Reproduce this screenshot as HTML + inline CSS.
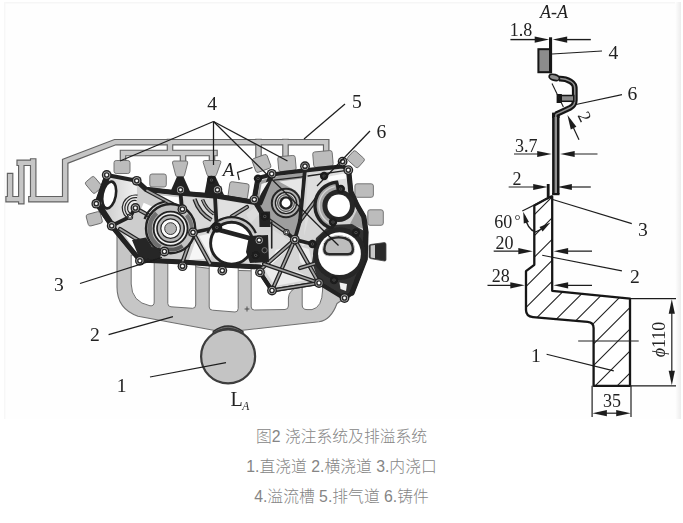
<!DOCTYPE html>
<html lang="zh"><head><meta charset="utf-8"><title>图2 浇注系统及排溢系统</title>
<style>
html,body{margin:0;padding:0;background:#fff}
#wrap{position:relative;width:683px;height:523px;overflow:hidden;background:#fff}
#fig{position:absolute;left:0;top:0}
.cap{position:absolute;left:0;width:683px;text-align:center;font-size:15.8px;line-height:20px;font-family:"Liberation Sans","Noto Sans CJK SC",sans-serif;color:#858585;font-weight:300;white-space:pre}
</style></head><body>
<div id="wrap">
<svg id="fig" width="683" height="523" viewBox="0 0 683 523" font-family="'Liberation Serif','Noto Serif CJK SC',serif">
<defs>
<linearGradient id="edgeR" x1="0" x2="1" y1="0" y2="0"><stop offset="0" stop-color="#ffffff"/><stop offset="1" stop-color="#ececec"/></linearGradient>
<linearGradient id="cav" x1="0" x2="1" y1="0" y2="0"><stop offset="0" stop-color="#c4c4c4"/><stop offset="1" stop-color="#f2f2f2"/></linearGradient>
<filter id="soft" x="-2%" y="-2%" width="104%" height="104%"><feGaussianBlur stdDeviation="0.55"/></filter>
</defs>
<rect x="4" y="2" width="677" height="417" fill="#fefefe"/>
<rect x="4" y="2" width="677" height="1.5" fill="#f6f6f6"/>
<rect x="4" y="2" width="1.5" height="417" fill="#f7f7f7"/>
<rect x="675" y="2" width="6" height="417" fill="url(#edgeR)"/>
<g filter="url(#soft)">
<g id="main">
<path d="M10.1,176.1 L10.1,199.2 M8.6,199.2 L21.3,199.2 M21.3,201.2 L21.3,162.8 M19.7,162.8 L33.2,162.8 M33.2,161.5 L33.2,199.2 M31.4,199.2 L65.2,199.2 L65.2,161.3 L115,142.2 L326.2,142.2 L326.2,149.4 M170,142 L170,153 M123,153 L214.5,153 M123,153 L123,161 M183,153 L183,161 M212,153 L212,161 M258.5,142 L258.5,157 M285.5,142 L285.5,157" fill="none" stroke="#626262" stroke-width="6.6" stroke-linejoin="miter" stroke-linecap="square"/>
<path d="M10.1,176.1 L10.1,199.2 M8.6,199.2 L21.3,199.2 M21.3,201.2 L21.3,162.8 M19.7,162.8 L33.2,162.8 M33.2,161.5 L33.2,199.2 M31.4,199.2 L65.2,199.2 L65.2,161.3 L115,142.2 L326.2,142.2 L326.2,149.4 M170,142 L170,153 M123,153 L214.5,153 M123,153 L123,161 M183,153 L183,161 M212,153 L212,161 M258.5,142 L258.5,157 M285.5,142 L285.5,157" fill="none" stroke="#c6c6c6" stroke-width="4.3" stroke-linejoin="miter" stroke-linecap="square"/>
<path d="M117,232 L117,287 Q117,309 138,316.2 L213.5,330.2 L242.8,330.2 L319,321.8 Q331,320 337,303.5 L345,298 L319,282 L272,290 L260,271 L222,270 L182,265 L140,259 Z" fill="#c6c6c6" stroke="#707070" stroke-width="1.1" stroke-linejoin="round"/>
<path d="M131.2,255 L131.2,284 Q131.5,302 150,305.8 Q154.2,306.3 154.2,302 L154.2,255 Z" fill="#fff" stroke="#707070" stroke-width="1"/>
<path d="M167.8,258 L167.8,303.5 Q167.8,306.6 171,306.8 L192.5,308.3 Q195.7,308.4 195.7,305 L195.7,258 Z" fill="#fff" stroke="#707070" stroke-width="1"/>
<path d="M209.2,262 L209.2,307 Q209.2,310 212.5,310.2 L235,312 Q238.2,312 238.2,308.5 L238.2,262 Z" fill="#fff" stroke="#707070" stroke-width="1"/>
<path d="M251.2,265 L251.2,307 Q251.2,310 254.5,310 L285,309.5 Q288.4,309.4 288.4,306 L288.4,298 Q289,290 297.5,287.5 L297.5,265 Z" fill="#fff" stroke="#707070" stroke-width="1"/>
<path d="M302.2,280 L302.2,305 Q302.2,309.6 307,309.6 L312,309.6 Q322.2,307.5 322.6,290 L322.6,278 Z" fill="#fff" stroke="#707070" stroke-width="1"/>
<line x1="244.6" y1="309" x2="249.4" y2="309" stroke="#444" stroke-width="0.9" />
<line x1="247" y1="306.5" x2="247" y2="311.5" stroke="#444" stroke-width="0.9" />
<path d="M213.2,331.5 Q228,320.5 243,331.5 L243,336 L213.2,336 Z" fill="#6a6a6a" stroke="#2e2e2e" stroke-width="1.3"/>
<path d="M213.6,333.6 Q228,323 242.6,333.6" fill="none" stroke="#2e2e2e" stroke-width="1"/>
<path d="M214.2,335.6 Q228,325.5 242,335.6" fill="none" stroke="#2e2e2e" stroke-width="1"/>
<circle cx="228.1" cy="356.4" r="27" fill="#c4c4c4" stroke="#3c3c3c" stroke-width="2.2"/>
<rect x="114.0" y="160.5" width="16" height="13" rx="2.2" fill="#bcbcbc" stroke="#6a6a6a" stroke-width="0.9" transform="rotate(0 122 167)"/>
<rect x="149.8" y="174.0" width="16.5" height="13" rx="2.2" fill="#bcbcbc" stroke="#6a6a6a" stroke-width="0.9" transform="rotate(0 158 180.5)"/>
<rect x="228.9" y="182.7" width="19.5" height="15.5" rx="2.2" fill="#bcbcbc" stroke="#6a6a6a" stroke-width="0.9" transform="rotate(8 238.7 190.4)"/>
<rect x="253.5" y="156.2" width="16" height="14.5" rx="2.2" fill="#bcbcbc" stroke="#6a6a6a" stroke-width="0.9" transform="rotate(-20 261.5 163.5)"/>
<rect x="278.2" y="156.0" width="17.5" height="15" rx="2.2" fill="#bcbcbc" stroke="#6a6a6a" stroke-width="0.9" transform="rotate(-5 287 163.5)"/>
<rect x="313.2" y="151.2" width="19.5" height="15.5" rx="2.2" fill="#bcbcbc" stroke="#6a6a6a" stroke-width="0.9" transform="rotate(-5 323 159)"/>
<rect x="348.6" y="153.2" width="14.5" height="12" rx="2.2" fill="#bcbcbc" stroke="#6a6a6a" stroke-width="0.9" transform="rotate(42 355.8 159.2)"/>
<rect x="354.9" y="183.8" width="18.5" height="13.5" rx="2.2" fill="#bcbcbc" stroke="#6a6a6a" stroke-width="0.9" transform="rotate(0 364.2 190.5)"/>
<rect x="367.8" y="209.8" width="15.5" height="15.5" rx="2.2" fill="#bcbcbc" stroke="#6a6a6a" stroke-width="0.9" transform="rotate(0 375.5 217.5)"/>
<rect x="86.3" y="179.2" width="14.5" height="11.5" rx="2.2" fill="#bcbcbc" stroke="#6a6a6a" stroke-width="0.9" transform="rotate(50 93.6 185)"/>
<rect x="87.0" y="212.8" width="14.5" height="12" rx="2.2" fill="#bcbcbc" stroke="#6a6a6a" stroke-width="0.9" transform="rotate(-15 94.3 218.8)"/>
<path d="M174,161 Q172.2,161 172.5,163 L175.6,175 Q176,176.8 177.5,176.8 L182.7,176.8 Q184.2,176.8 184.6,175 L187.7,163 Q188,161 186.2,161 Z" fill="#bcbcbc" stroke="#6a6a6a" stroke-width="0.9"/>
<path d="M204.6,160.5 Q202.8,160.5 203.2,162.5 L207,174.5 Q207.5,176.3 209,176.3 L214.4,176.3 Q216,176.3 216.5,174.5 L220.8,162.5 Q221.2,160.5 219.4,160.5 Z" fill="#bcbcbc" stroke="#6a6a6a" stroke-width="0.9"/>
<path d="M370.5,244.5 L384.5,242.6 Q386,242.6 386,244.5 L386,259.5 Q386,261.2 384.5,261 L370.5,258.6 Q369,258.3 369,256.8 L369,246.2 Q369,244.8 370.5,244.5 Z" fill="#2a2a2a" stroke="#444" stroke-width="0.8"/>
<path d="M370.6,245.6 L375,245 L375,258.2 L370.6,257.5 Z" fill="#c8c8c8"/>
<path d="M106.7,175 L136.7,180.8 L146,189.3 L180.5,193 L217.5,196 L254,202 L258,178 L271.7,174.5 L305,170.3 L342.6,166.3 L348.6,170 L350.8,191.7 L357,205 L363.8,216.7 L366,232 L365.2,259 L352,293 L344.5,298.5 L319,283 L272,290.5 L260,272.4 L260,267 L222.5,265 L182.5,262 L139.7,260 L111.7,225.8 L96.3,203.7 Z" fill="#d4d4d4" stroke="#222222" stroke-width="1" stroke-linejoin="round" stroke-linecap="round" />
<path d="M106.7,175 L136.7,180.8 L137,200 L133,213 L111.7,225.8 L96.3,203.7 Z" fill="url(#cav)"/>
<path d="M137,183 L146,189.3 L182,209 L193,232.5 L182.5,262 L139.7,260 L118,230 L131,218 L137,205 Z" fill="#cdcdcd"/>
<path d="M143.7,202.8 L154.3,207.5 L148.4,213.3 L141.4,208.6 Z" fill="#fff"/>
<path d="M150,194.2 L178.5,197.2 L179,205.5 L158,198.2 Z" fill="#fff"/>
<path d="M184,197 L214,199.5 L213.5,224 L196,229.5 L185,210 Z" fill="#d9d9d9"/>
<path d="M196.5,238 L206.5,258.5 L189,260 Z" fill="#f6f6f6"/>
<path d="M199,236 L212.5,233 L211,258 Z" fill="#f3f3f3"/>
<path d="M123.5,232 L138.5,242 L136.5,254 Z" fill="#fafafa"/>
<path d="M219,199.5 L250,205 L243,211 L228,216 L218,219 Z" fill="#e0e0e0"/>
<path d="M258,205 L262,211 L251,223 L246,214 Z" fill="#dcdcdc"/>
<path d="M260,181 L272,177 L303,172.5 L299,222 L294,238 L284,231 L266,217 L257,201 Z" fill="#9e9e9e"/>
<path d="M308.5,174 L340.5,169.5 L346.5,173 L348.5,188 L331,185 L318,196 L309,216 L304,236 L307.5,182 Z" fill="#dedede"/>
<path d="M326,177 L345.5,173.2 L346.5,178.5 L329,181 Z" fill="#fbfbfb"/>
<path d="M352,192 L362.5,216 L364,229 L350,224 L357,210 Z" fill="#9c9c9c"/>
<path d="M298,246 L309,249 L314,274 L300,262 Z" fill="#ececec"/>
<path d="M264,265 L300,272.5 L312,279 L275,286 L266,272 Z" fill="#ebebeb"/>
<path d="M298,241 L308,240.5 L303,246 Z" fill="#eee"/>
<path d="M270,228 L283,236 L292,243 L268,262 Z" fill="#dcdcdc"/>
<path d="M276,250 L291,246 L270,266 Z" fill="#f6f6f6"/>
<path d="M316,238 L330,225 L352,224 L366,232 L365.2,259 L352,293 L344.5,298.5 L319,283 L312,262 Z" fill="#333"/>
<path d="M339.5,282.5 L347,284 L346,291 L340.5,289 Z" fill="#f2f2f2"/>
<path d="M177,176.5 L183.4,176.5 L190.5,192.5 L170.5,191.5 Z" fill="#222222"/>
<path d="M207.8,176 L215.2,176 L224,195 L204.5,193.5 Z" fill="#222222"/>
<path d="M106.7,175 L136.7,180.8 L146,189.3 L180.5,193 L217.5,196 L254,202 L258,178 L271.7,174.5 L305,170.3 L342.6,166.3 L348.6,170 L350.8,191.7 L357,205 L363.8,216.7 L366,232 L365.2,259 L352,293 L344.5,298.5 L319,283 L272,290.5 L260,272.4 L260,267 L222.5,265 L182.5,262 L139.7,260 L111.7,225.8 L96.3,203.7 Z" fill="none" stroke="#222222" stroke-width="4.2" stroke-linejoin="round" stroke-linecap="round" />
<path d="M107.5,175.5 L97.8,203.7 L112.5,225.8" fill="none" stroke="#222222" stroke-width="6" stroke-linejoin="round" stroke-linecap="round" />
<path d="M111.7,225.8 L139.7,260" fill="none" stroke="#222222" stroke-width="5" stroke-linejoin="round" stroke-linecap="round" />
<path d="M136.7,180.8 L146,189.3 L180.5,193.3 L217.5,196.3 L254,202.3" fill="none" stroke="#222222" stroke-width="5" stroke-linejoin="round" stroke-linecap="round" />
<path d="M348.6,170 L350.8,191.7 L357,205 L363.8,216.7 L366,232 L365.2,259 L352,293" fill="none" stroke="#222222" stroke-width="5.2" stroke-linejoin="round" stroke-linecap="round" />
<path d="M258,178 L254,200 L264,216.7" fill="none" stroke="#222222" stroke-width="5" stroke-linejoin="round" stroke-linecap="round" />
<path d="M139.7,260 L182.5,262 L222.5,265 L260,267" fill="none" stroke="#222222" stroke-width="5" stroke-linejoin="round" stroke-linecap="round" />
<path d="M271.7,174.5 L260,203" fill="none" stroke="#222222" stroke-width="5" stroke-linejoin="round" stroke-linecap="round" />
<path d="M150,193.6 L179,196.4" fill="none" stroke="#bdbdbd" stroke-width="0.9" stroke-linejoin="round" stroke-linecap="round" />
<path d="M274,180.2 L304.5,176.6" fill="none" stroke="#222222" stroke-width="1.3" stroke-linejoin="round" stroke-linecap="round" />
<path d="M308,176 L345,170.6" fill="none" stroke="#222222" stroke-width="1.3" stroke-linejoin="round" stroke-linecap="round" />
<path d="M147,190.5 L182,209.2" fill="none" stroke="#222222" stroke-width="4.2" stroke-linejoin="round" stroke-linecap="round" /><path d="M147,190.5 L182,209.2" fill="none" stroke="#a2a2a2" stroke-width="1.7000000000000002" stroke-linejoin="round" stroke-linecap="round" />
<path d="M182,209.2 L193,232.5" fill="none" stroke="#222222" stroke-width="4.2" stroke-linejoin="round" stroke-linecap="round" /><path d="M182,209.2 L193,232.5" fill="none" stroke="#a2a2a2" stroke-width="1.7000000000000002" stroke-linejoin="round" stroke-linecap="round" />
<path d="M193,232.5 L182.5,262" fill="none" stroke="#222222" stroke-width="4.2" stroke-linejoin="round" stroke-linecap="round" /><path d="M193,232.5 L182.5,262" fill="none" stroke="#a2a2a2" stroke-width="1.7000000000000002" stroke-linejoin="round" stroke-linecap="round" />
<path d="M193,232.5 L210,263.5" fill="none" stroke="#222222" stroke-width="4.2" stroke-linejoin="round" stroke-linecap="round" /><path d="M193,232.5 L210,263.5" fill="none" stroke="#a2a2a2" stroke-width="1.7000000000000002" stroke-linejoin="round" stroke-linecap="round" />
<path d="M294.7,239.7 L260,270" fill="none" stroke="#222222" stroke-width="4.2" stroke-linejoin="round" stroke-linecap="round" /><path d="M294.7,239.7 L260,270" fill="none" stroke="#a2a2a2" stroke-width="1.7000000000000002" stroke-linejoin="round" stroke-linecap="round" />
<path d="M294.7,239.7 L272,290.5" fill="none" stroke="#222222" stroke-width="4.2" stroke-linejoin="round" stroke-linecap="round" /><path d="M294.7,239.7 L272,290.5" fill="none" stroke="#a2a2a2" stroke-width="1.7000000000000002" stroke-linejoin="round" stroke-linecap="round" />
<path d="M294.7,239.7 L319,283" fill="none" stroke="#222222" stroke-width="4.2" stroke-linejoin="round" stroke-linecap="round" /><path d="M294.7,239.7 L319,283" fill="none" stroke="#a2a2a2" stroke-width="1.7000000000000002" stroke-linejoin="round" stroke-linecap="round" />
<path d="M264,264 L319,283" fill="none" stroke="#222222" stroke-width="4.2" stroke-linejoin="round" stroke-linecap="round" /><path d="M264,264 L319,283" fill="none" stroke="#a2a2a2" stroke-width="1.7000000000000002" stroke-linejoin="round" stroke-linecap="round" />
<path d="M272,290.5 L319,283" fill="none" stroke="#222222" stroke-width="4.2" stroke-linejoin="round" stroke-linecap="round" /><path d="M272,290.5 L319,283" fill="none" stroke="#a2a2a2" stroke-width="1.7000000000000002" stroke-linejoin="round" stroke-linecap="round" />
<path d="M231.7,216.5 L247,207" fill="none" stroke="#222222" stroke-width="4.2" stroke-linejoin="round" stroke-linecap="round" /><path d="M231.7,216.5 L247,207" fill="none" stroke="#a2a2a2" stroke-width="1.7000000000000002" stroke-linejoin="round" stroke-linecap="round" />
<path d="M120,229 L146,245" fill="none" stroke="#222222" stroke-width="4.2" stroke-linejoin="round" stroke-linecap="round" /><path d="M120,229 L146,245" fill="none" stroke="#a2a2a2" stroke-width="1.7000000000000002" stroke-linejoin="round" stroke-linecap="round" />
<path d="M135.3,208 L150,216" fill="none" stroke="#222222" stroke-width="4.2" stroke-linejoin="round" stroke-linecap="round" /><path d="M135.3,208 L150,216" fill="none" stroke="#a2a2a2" stroke-width="1.7000000000000002" stroke-linejoin="round" stroke-linecap="round" />
<path d="M300,221 L318,197" fill="none" stroke="#222222" stroke-width="4.2" stroke-linejoin="round" stroke-linecap="round" /><path d="M300,221 L318,197" fill="none" stroke="#a2a2a2" stroke-width="1.7000000000000002" stroke-linejoin="round" stroke-linecap="round" />
<path d="M320,262 L300,268" fill="none" stroke="#222222" stroke-width="4.2" stroke-linejoin="round" stroke-linecap="round" /><path d="M320,262 L300,268" fill="none" stroke="#a2a2a2" stroke-width="1.7000000000000002" stroke-linejoin="round" stroke-linecap="round" />
<path d="M264,216.7 L286,232" fill="none" stroke="#222222" stroke-width="4.2" stroke-linejoin="round" stroke-linecap="round" /><path d="M264,216.7 L286,232" fill="none" stroke="#a2a2a2" stroke-width="1.7000000000000002" stroke-linejoin="round" stroke-linecap="round" />
<path d="M180.5,193 L182,209.2" fill="none" stroke="#222222" stroke-width="3.8" stroke-linejoin="round" stroke-linecap="round" />
<path d="M193,232.5 L216.7,227.5" fill="none" stroke="#222222" stroke-width="3.8" stroke-linejoin="round" stroke-linecap="round" />
<path d="M216.7,227.5 L215,197" fill="none" stroke="#222222" stroke-width="3.8" stroke-linejoin="round" stroke-linecap="round" />
<path d="M305,169 L300,221" fill="none" stroke="#222222" stroke-width="3.8" stroke-linejoin="round" stroke-linecap="round" />
<path d="M300,221 L294.7,239.7" fill="none" stroke="#222222" stroke-width="3.8" stroke-linejoin="round" stroke-linecap="round" />
<path d="M294.7,239.7 L312.5,244" fill="none" stroke="#222222" stroke-width="3.8" stroke-linejoin="round" stroke-linecap="round" />
<path d="M286,232 L294.7,239.7" fill="none" stroke="#222222" stroke-width="3.8" stroke-linejoin="round" stroke-linecap="round" />
<path d="M111.7,225.8 L130,216.7" fill="none" stroke="#222222" stroke-width="3.8" stroke-linejoin="round" stroke-linecap="round" />
<path d="M130,216.7 L135.3,208" fill="none" stroke="#222222" stroke-width="3.8" stroke-linejoin="round" stroke-linecap="round" />
<path d="M260,272.4 L272,290.5" fill="none" stroke="#222222" stroke-width="3.8" stroke-linejoin="round" stroke-linecap="round" />
<path d="M271.7,222 L271.7,248" fill="none" stroke="#222222" stroke-width="1.6" stroke-linejoin="round" stroke-linecap="round" />
<path d="M194.5,199 Q199,213 211.5,220" fill="none" stroke="#222" stroke-width="4.2"/><path d="M194.5,199 Q199,213 211.5,220" fill="none" stroke="#a2a2a2" stroke-width="1.8"/>
<path d="M202.5,199.5 Q206,209 214,214" fill="none" stroke="#222" stroke-width="3.6"/><path d="M202.5,199.5 Q206,209 214,214" fill="none" stroke="#a2a2a2" stroke-width="1.4"/>
<ellipse cx="109.2" cy="195" rx="6.6" ry="13.6" transform="rotate(11 109.2 195)" fill="#fff" stroke="#222" stroke-width="2.6"/>
<path d="M136.6,200.6 A7.5,7.5 0 0 0 130.5,213.8" fill="none" stroke="#2a2a2a" stroke-width="1.2"/>
<path d="M137.1,197.7 A10.5,10.5 0 0 0 128.6,216.1" fill="none" stroke="#2a2a2a" stroke-width="1.2"/>
<path d="M137.5,195.2 A13,13 0 0 0 127.0,218.0" fill="none" stroke="#2a2a2a" stroke-width="1.2"/>
<path d="M144.5,219 A27.6,27.6 0 0 1 165,201.5" fill="none" stroke="#222" stroke-width="2.2"/>
<circle cx="170.6" cy="228.6" r="24.6" fill="#c2c2c2" stroke="#222" stroke-width="2.4"/>
<path d="M156.6,213.1 A21,21 0 0 0 160.6,247.1" fill="none" stroke="#6e6e6e" stroke-width="4.4"/>
<path d="M186.6,215.1 A21,21 0 0 1 190.1,236.6" fill="none" stroke="#787878" stroke-width="4"/>
<path d="M166.6,249.2 A21,21 0 0 0 182.6,245.8" fill="none" stroke="#5a5a5a" stroke-width="4"/>
<path d="M132,240 L146,237.5 L152,247 L162,248.5 L160,259.5 L139.5,258.5 Z" fill="#262626"/>
<circle cx="170.6" cy="228.6" r="17" fill="#f1f1f1" stroke="#222" stroke-width="1.9"/>
<circle cx="170.6" cy="228.6" r="13.6" fill="#b7b7b7" stroke="#222" stroke-width="1.6"/>
<circle cx="170.6" cy="228.6" r="9.8" fill="#fbfbfb" stroke="#222" stroke-width="1.2"/>
<circle cx="170.6" cy="228.6" r="5.9" fill="#b6b6b6" stroke="#3a3a3a" stroke-width="1"/>
<path d="M207.4,233.2 A26.2,26.2 0 0 1 255.8,233.2" fill="#c4c4c4" stroke="#222" stroke-width="2.2"/>
<circle cx="231.6" cy="243.2" r="21" fill="#fff" stroke="#222" stroke-width="2.9"/>
<path d="M217.5,229.5 L258.3,240.5" fill="none" stroke="#222222" stroke-width="4.8" stroke-linejoin="round" stroke-linecap="round" />
<path d="M259,211.5 L270,211.5 L270.5,227 L259.5,227 Z" fill="#222"/>
<path d="M249,236 L268,235 L269,262 L250,263 L246,252 Z" fill="#242424"/>
<circle cx="264.6" cy="250.2" r="2.6" fill="none" stroke="#777" stroke-width="0.9"/>
<path d="M261.5,184 L268.5,181.5 L259.5,196 Z" fill="#f4f4f4"/>
<path d="M279,181.5 L302,178.5 L300.5,199 L296,191 L288,186.5 Z" fill="#e6e6e6"/>
<circle cx="286" cy="203" r="15.2" fill="#262626"/>
<circle cx="286" cy="203" r="13.2" fill="#b4b4b4"/>
<circle cx="286" cy="203" r="10.6" fill="#d9d9d9" stroke="#222" stroke-width="1.3"/>
<circle cx="286" cy="203" r="8.4" fill="#c4c4c4" stroke="#333" stroke-width="0.9"/>
<circle cx="286" cy="203" r="6.8" fill="#222"/>
<circle cx="286" cy="203" r="4.4" fill="#fff"/>
<path d="M336.7,182.2 A23.6,23.6 0 0 0 331.7,228.3 L335.7,220.8 L338.7,190.8 Z" fill="#a8a8a8" stroke="#222" stroke-width="3.4"/>
<path d="M334.7,186.6 A19.6,19.6 0 0 0 330.7,223.7" fill="none" stroke="#d5d5d5" stroke-width="1.4"/>
<circle cx="338.7" cy="205.8" r="16.3" fill="#252525"/>
<circle cx="338.7" cy="205.8" r="11.3" fill="#fff"/>
<circle cx="339.5" cy="253.7" r="26.4" fill="#262626"/>
<circle cx="339.5" cy="253.7" r="21.4" fill="#fff"/>
<path d="M322.6,249.3 Q322.8,236 338.6,235.6 Q354.4,236 354.6,249.3 Q354.6,256 348,256 L329.2,256 Q322.6,256 322.6,249.3 Z" fill="#2a2a2a" stroke="#dcdcdc" stroke-width="0.9"/>
<path d="M325.6,249.2 Q325.8,238.9 338.6,238.5 Q351.4,238.9 351.6,249.2 Q351.6,252.9 347.6,252.9 L329.6,252.9 Q325.6,252.9 325.6,249.2 Z" fill="#bdbdbd"/>
<circle cx="106.7" cy="175" r="4.9" fill="#242424"/><circle cx="106.7" cy="175" r="3.53" fill="#bdbdbd"/><circle cx="106.7" cy="175" r="2.84" fill="#2a2a2a"/><circle cx="106.7" cy="175" r="1.4" fill="#fff"/>
<circle cx="136.7" cy="180.8" r="4.9" fill="#242424"/><circle cx="136.7" cy="180.8" r="3.53" fill="#bdbdbd"/><circle cx="136.7" cy="180.8" r="2.84" fill="#2a2a2a"/><circle cx="136.7" cy="180.8" r="1.4" fill="#fff"/>
<circle cx="96.3" cy="203.7" r="4.9" fill="#242424"/><circle cx="96.3" cy="203.7" r="3.53" fill="#bdbdbd"/><circle cx="96.3" cy="203.7" r="2.84" fill="#2a2a2a"/><circle cx="96.3" cy="203.7" r="1.4" fill="#fff"/>
<circle cx="111.7" cy="225.8" r="4.9" fill="#242424"/><circle cx="111.7" cy="225.8" r="3.53" fill="#bdbdbd"/><circle cx="111.7" cy="225.8" r="2.84" fill="#2a2a2a"/><circle cx="111.7" cy="225.8" r="1.4" fill="#fff"/>
<circle cx="139.9" cy="260.8" r="4.9" fill="#242424"/><circle cx="139.9" cy="260.8" r="3.53" fill="#bdbdbd"/><circle cx="139.9" cy="260.8" r="2.84" fill="#2a2a2a"/><circle cx="139.9" cy="260.8" r="1.4" fill="#fff"/>
<circle cx="164.4" cy="251.5" r="4.9" fill="#242424"/><circle cx="164.4" cy="251.5" r="3.53" fill="#bdbdbd"/><circle cx="164.4" cy="251.5" r="2.84" fill="#2a2a2a"/><circle cx="164.4" cy="251.5" r="1.4" fill="#fff"/>
<circle cx="182.5" cy="266.2" r="4.9" fill="#242424"/><circle cx="182.5" cy="266.2" r="3.53" fill="#bdbdbd"/><circle cx="182.5" cy="266.2" r="2.84" fill="#2a2a2a"/><circle cx="182.5" cy="266.2" r="1.4" fill="#fff"/>
<circle cx="222.3" cy="270.6" r="4.9" fill="#242424"/><circle cx="222.3" cy="270.6" r="3.53" fill="#bdbdbd"/><circle cx="222.3" cy="270.6" r="2.84" fill="#2a2a2a"/><circle cx="222.3" cy="270.6" r="1.4" fill="#fff"/>
<circle cx="260" cy="272.4" r="4.9" fill="#242424"/><circle cx="260" cy="272.4" r="3.53" fill="#bdbdbd"/><circle cx="260" cy="272.4" r="2.84" fill="#2a2a2a"/><circle cx="260" cy="272.4" r="1.4" fill="#fff"/>
<circle cx="272" cy="290.5" r="4.9" fill="#242424"/><circle cx="272" cy="290.5" r="3.53" fill="#bdbdbd"/><circle cx="272" cy="290.5" r="2.84" fill="#2a2a2a"/><circle cx="272" cy="290.5" r="1.4" fill="#fff"/>
<circle cx="319" cy="283" r="4.9" fill="#242424"/><circle cx="319" cy="283" r="3.53" fill="#bdbdbd"/><circle cx="319" cy="283" r="2.84" fill="#2a2a2a"/><circle cx="319" cy="283" r="1.4" fill="#fff"/>
<circle cx="344.5" cy="298" r="4.9" fill="#242424"/><circle cx="344.5" cy="298" r="3.53" fill="#bdbdbd"/><circle cx="344.5" cy="298" r="2.84" fill="#2a2a2a"/><circle cx="344.5" cy="298" r="1.4" fill="#fff"/>
<circle cx="180.5" cy="189.8" r="4.9" fill="#242424"/><circle cx="180.5" cy="189.8" r="3.53" fill="#bdbdbd"/><circle cx="180.5" cy="189.8" r="2.84" fill="#2a2a2a"/><circle cx="180.5" cy="189.8" r="1.4" fill="#fff"/>
<circle cx="217.4" cy="189.8" r="4.9" fill="#242424"/><circle cx="217.4" cy="189.8" r="3.53" fill="#bdbdbd"/><circle cx="217.4" cy="189.8" r="2.84" fill="#2a2a2a"/><circle cx="217.4" cy="189.8" r="1.4" fill="#fff"/>
<circle cx="254.3" cy="199.6" r="4.9" fill="#242424"/><circle cx="254.3" cy="199.6" r="3.53" fill="#bdbdbd"/><circle cx="254.3" cy="199.6" r="2.84" fill="#2a2a2a"/><circle cx="254.3" cy="199.6" r="1.4" fill="#fff"/>
<circle cx="271.7" cy="173.8" r="4.9" fill="#242424"/><circle cx="271.7" cy="173.8" r="3.53" fill="#bdbdbd"/><circle cx="271.7" cy="173.8" r="2.84" fill="#2a2a2a"/><circle cx="271.7" cy="173.8" r="1.4" fill="#fff"/>
<circle cx="305" cy="166.2" r="4.9" fill="#242424"/><circle cx="305" cy="166.2" r="3.53" fill="#bdbdbd"/><circle cx="305" cy="166.2" r="2.84" fill="#2a2a2a"/><circle cx="305" cy="166.2" r="1.4" fill="#fff"/>
<circle cx="342.6" cy="161.6" r="4.9" fill="#242424"/><circle cx="342.6" cy="161.6" r="3.53" fill="#bdbdbd"/><circle cx="342.6" cy="161.6" r="2.84" fill="#2a2a2a"/><circle cx="342.6" cy="161.6" r="1.4" fill="#fff"/>
<circle cx="348.3" cy="170.1" r="4.9" fill="#242424"/><circle cx="348.3" cy="170.1" r="3.53" fill="#bdbdbd"/><circle cx="348.3" cy="170.1" r="2.84" fill="#2a2a2a"/><circle cx="348.3" cy="170.1" r="1.4" fill="#fff"/>
<circle cx="135.4" cy="208" r="4.9" fill="#242424"/><circle cx="135.4" cy="208" r="3.53" fill="#bdbdbd"/><circle cx="135.4" cy="208" r="2.84" fill="#2a2a2a"/><circle cx="135.4" cy="208" r="1.4" fill="#fff"/>
<circle cx="182.4" cy="209.2" r="4.9" fill="#242424"/><circle cx="182.4" cy="209.2" r="3.53" fill="#bdbdbd"/><circle cx="182.4" cy="209.2" r="2.84" fill="#2a2a2a"/><circle cx="182.4" cy="209.2" r="1.4" fill="#fff"/>
<circle cx="193" cy="232.4" r="4.9" fill="#242424"/><circle cx="193" cy="232.4" r="3.53" fill="#bdbdbd"/><circle cx="193" cy="232.4" r="2.84" fill="#2a2a2a"/><circle cx="193" cy="232.4" r="1.4" fill="#fff"/>
<circle cx="259.2" cy="240.2" r="4.9" fill="#242424"/><circle cx="259.2" cy="240.2" r="3.53" fill="#bdbdbd"/><circle cx="259.2" cy="240.2" r="2.84" fill="#2a2a2a"/><circle cx="259.2" cy="240.2" r="1.4" fill="#fff"/>
<circle cx="294.8" cy="239.6" r="4.9" fill="#242424"/><circle cx="294.8" cy="239.6" r="3.53" fill="#bdbdbd"/><circle cx="294.8" cy="239.6" r="2.84" fill="#2a2a2a"/><circle cx="294.8" cy="239.6" r="1.4" fill="#fff"/>
<circle cx="130" cy="216.7" r="3.2" fill="#242424"/><circle cx="130" cy="216.7" r="2.30" fill="#bdbdbd"/><circle cx="130" cy="216.7" r="1.86" fill="#2a2a2a"/><circle cx="130" cy="216.7" r="1.0" fill="#fff"/>
<circle cx="286.4" cy="232.2" r="3.2" fill="#242424"/><circle cx="286.4" cy="232.2" r="2.30" fill="#bdbdbd"/><circle cx="286.4" cy="232.2" r="1.86" fill="#2a2a2a"/><circle cx="286.4" cy="232.2" r="1.0" fill="#fff"/>
<circle cx="216.8" cy="227.3" r="5.4" fill="#1c1c1c"/><circle cx="216.8" cy="227.3" r="1.6" fill="#555"/><circle cx="216.8" cy="227.3" r="0.8" fill="#111"/>
<circle cx="211.4" cy="180" r="4.2" fill="#1c1c1c"/><circle cx="211.4" cy="180" r="1.6" fill="#555"/><circle cx="211.4" cy="180" r="0.8" fill="#111"/>
<circle cx="258" cy="178.6" r="4.2" fill="#1c1c1c"/><circle cx="258" cy="178.6" r="1.6" fill="#555"/><circle cx="258" cy="178.6" r="0.8" fill="#111"/>
<circle cx="264.8" cy="216.4" r="4.2" fill="#1c1c1c"/><circle cx="264.8" cy="216.4" r="1.6" fill="#555"/><circle cx="264.8" cy="216.4" r="0.8" fill="#111"/>
<circle cx="255.7" cy="255.3" r="4.2" fill="#1c1c1c"/><circle cx="255.7" cy="255.3" r="1.6" fill="#555"/><circle cx="255.7" cy="255.3" r="0.8" fill="#111"/>
<circle cx="324.1" cy="176" r="4.2" fill="#1c1c1c"/><circle cx="324.1" cy="176" r="1.6" fill="#555"/><circle cx="324.1" cy="176" r="0.8" fill="#111"/>
<circle cx="340.8" cy="189" r="4.2" fill="#1c1c1c"/><circle cx="340.8" cy="189" r="1.6" fill="#555"/><circle cx="340.8" cy="189" r="0.8" fill="#111"/>
<circle cx="333" cy="222" r="4.2" fill="#1c1c1c"/><circle cx="333" cy="222" r="1.6" fill="#555"/><circle cx="333" cy="222" r="0.8" fill="#111"/>
<circle cx="312.5" cy="244" r="4.2" fill="#1c1c1c"/><circle cx="312.5" cy="244" r="1.6" fill="#555"/><circle cx="312.5" cy="244" r="0.8" fill="#111"/>
<circle cx="334" cy="280" r="4.2" fill="#1c1c1c"/><circle cx="334" cy="280" r="1.6" fill="#555"/><circle cx="334" cy="280" r="0.8" fill="#111"/>
<circle cx="356" cy="232.5" r="4.2" fill="#1c1c1c"/><circle cx="356" cy="232.5" r="1.6" fill="#555"/><circle cx="356" cy="232.5" r="0.8" fill="#111"/>
<line x1="213.5" y1="121.5" x2="120" y2="161" stroke="#1e1e1e" stroke-width="1.25" />
<line x1="213.5" y1="121.5" x2="213.5" y2="165" stroke="#1e1e1e" stroke-width="1.25" />
<line x1="213.5" y1="121.5" x2="287.5" y2="161" stroke="#1e1e1e" stroke-width="1.25" />
<line x1="213.5" y1="121.5" x2="338.5" y2="245.5" stroke="#1e1e1e" stroke-width="1.25" />
<text x="212.2" y="110.4" font-size="19.6" text-anchor="middle" fill="#222" >4</text>
<line x1="345" y1="104" x2="304" y2="139" stroke="#1e1e1e" stroke-width="1.25" />
<text x="357" y="108" font-size="19.6" text-anchor="middle" fill="#222" >5</text>
<line x1="370" y1="131" x2="317" y2="186" stroke="#1e1e1e" stroke-width="1.25" />
<text x="381.5" y="137.5" font-size="19.6" text-anchor="middle" fill="#222" >6</text>
<line x1="80" y1="283.5" x2="162" y2="257.4" stroke="#1e1e1e" stroke-width="1.25" />
<text x="59" y="291" font-size="19.6" text-anchor="middle" fill="#222" >3</text>
<line x1="108.6" y1="334.6" x2="173" y2="316.6" stroke="#1e1e1e" stroke-width="1.25" />
<text x="95" y="340.5" font-size="19.6" text-anchor="middle" fill="#222" >2</text>
<line x1="150" y1="377" x2="226" y2="362.7" stroke="#1e1e1e" stroke-width="1.25" />
<text x="121.6" y="391.8" font-size="19.6" text-anchor="middle" fill="#222" >1</text>
<text x="228.5" y="176" font-size="19" font-style="italic" text-anchor="middle" fill="#222" >A</text>
<path d="M252.5,167.5 L237.5,172.5 L239.2,180" fill="none" stroke="#1e1e1e" stroke-width="1.2"/>
<text x="230.5" y="405.7" font-size="20" text-anchor="start" fill="#222" >L</text>
<text x="242.2" y="409.6" font-size="11.5" font-style="italic" text-anchor="start" fill="#222" >A</text>
</g>
<g id="section">
<text x="554" y="17.5" font-size="18" font-style="italic" text-anchor="middle" fill="#222" >A-A</text>
<text x="509.8" y="36.2" font-size="18" text-anchor="start" fill="#222" >1.8</text>
<line x1="510.4" y1="39.6" x2="540" y2="39.6" stroke="#1e1e1e" stroke-width="1.4" />
<polygon points="549.2,39.6 534.7,42.7 534.7,36.5" fill="#1e1e1e"/>
<polygon points="552.7,39.6 567.2,36.5 567.2,42.7" fill="#1e1e1e"/>
<line x1="562" y1="39.6" x2="590.8" y2="39.6" stroke="#1e1e1e" stroke-width="1.4" />
<rect x="549" y="37.3" width="3.1" height="36" fill="#151515"/>
<rect x="538.4" y="49.2" width="11.6" height="23" fill="#8c8c8c" stroke="#151515" stroke-width="2"/>
<line x1="552" y1="54" x2="602" y2="51" stroke="#1e1e1e" stroke-width="1.1" />
<text x="608.6" y="58.7" font-size="19.6" text-anchor="start" fill="#222" >4</text>
<path d="M558.8,78.6 C563,78.4 567.5,79.6 570.5,81.4 C574.6,83.8 574.8,86 574.8,90 L574.8,100 C574.8,104.5 573.5,106 570,107.8 L556,114.4" fill="none" stroke="#171717" stroke-width="5.8" stroke-linejoin="round"/>
<path d="M570,107 L559.6,112 L559.6,118 L552.1,118 L552.1,113.6 Z" fill="#171717"/>
<path d="M555.8,112.6 L555.8,194" fill="none" stroke="#171717" stroke-width="7.4"/>
<path d="M558.8,78.6 C563,78.4 567.5,79.6 570.5,81.4 C574.6,83.8 574.8,86 574.8,90 L574.8,100 C574.8,104.5 573.5,106 570,107.8 L556,114.4 L555.8,116 L555.8,193.5" fill="none" stroke="#909090" stroke-width="1.5" stroke-linejoin="round"/>
<path d="M555.8,117 L555.8,193.5" fill="none" stroke="#909090" stroke-width="2.4"/>
<ellipse cx="554.3" cy="77.4" rx="5.3" ry="2.9" transform="rotate(16 554.3 77.4)" fill="#8c8c8c" stroke="#171717" stroke-width="1.7"/>
<rect x="552.1" y="193" width="7.4" height="2.2" fill="#171717"/>
<rect x="561.2" y="95.5" width="12.6" height="5.8" fill="#8a8a8a" stroke="#151515" stroke-width="1.5"/>
<rect x="556.6" y="94" width="5.2" height="9" fill="#151515"/>
<line x1="552" y1="83.4" x2="563.4" y2="107" stroke="#1e1e1e" stroke-width="1.1" />
<line x1="576" y1="104.5" x2="622" y2="94.6" stroke="#1e1e1e" stroke-width="1.1" />
<text x="627.4" y="100.4" font-size="19.6" text-anchor="start" fill="#222" >6</text>
<line x1="579" y1="139.8" x2="569.6" y2="119.6" stroke="#1e1e1e" stroke-width="1.2" />
<polygon points="567.4,115.0 576.4,126.8 570.8,129.4" fill="#1e1e1e"/>
<text x="0" y="0" font-size="18" fill="#222" text-anchor="middle" transform="translate(579.2,119.4) rotate(64)">2</text>
<text x="515" y="151.5" font-size="18" text-anchor="start" fill="#222" >3.7</text>
<line x1="514" y1="154" x2="547" y2="154" stroke="#1e1e1e" stroke-width="1.2" />
<polygon points="551.7,154.0 537.2,157.1 537.2,150.9" fill="#1e1e1e"/>
<polygon points="560.2,154.0 574.7,150.9 574.7,157.1" fill="#1e1e1e"/>
<line x1="565" y1="154" x2="597.5" y2="154" stroke="#1e1e1e" stroke-width="1.2" />
<text x="512.6" y="184.8" font-size="18" text-anchor="start" fill="#222" >2</text>
<line x1="508.7" y1="187" x2="543" y2="187" stroke="#1e1e1e" stroke-width="1.2" />
<polygon points="547.7,187.0 533.2,190.1 533.2,183.9" fill="#1e1e1e"/>
<polygon points="557.4,187.0 571.9,183.9 571.9,190.1" fill="#1e1e1e"/>
<line x1="562" y1="187" x2="590.8" y2="187" stroke="#1e1e1e" stroke-width="1.2" />
<rect x="546.8" y="184" width="2.8" height="13.4" fill="#151515"/>
<clipPath id="secclip"><path d="M552.2,196.5 L552.2,290.8 L630,298.7 L630,385.8 L593.6,385.8 L593.6,328 Q593.6,322.4 587.6,321.9 L533,317.1 Q526,316.4 526,310 L526,271.2 L534.3,264.8 L534.3,205.4 L547,198.6 L551.2,196.5 Z"/></clipPath>
<path d="M552.2,196.5 L552.2,290.8 L630,298.7 L630,385.8 L593.6,385.8 L593.6,328 Q593.6,322.4 587.6,321.9 L533,317.1 Q526,316.4 526,310 L526,271.2 L534.3,264.8 L534.3,205.4 L547,198.6 L551.2,196.5 Z" fill="#fff"/>
<g clip-path="url(#secclip)" stroke="#1e1e1e" stroke-width="1.1">
<line x1="500" y1="249" x2="660" y2="89"/>
<line x1="500" y1="270" x2="660" y2="110"/>
<line x1="500" y1="291.5" x2="660" y2="131.5"/>
<line x1="500" y1="312.5" x2="660" y2="152.5"/>
<line x1="500" y1="333.5" x2="660" y2="173.5"/>
<line x1="500" y1="354.5" x2="660" y2="194.5"/>
<line x1="500" y1="375.5" x2="660" y2="215.5"/>
<line x1="500" y1="396.5" x2="660" y2="236.5"/>
<line x1="500" y1="417" x2="660" y2="257"/>
<line x1="500" y1="437.5" x2="660" y2="277.5"/>
<line x1="500" y1="459" x2="660" y2="299"/>
<line x1="500" y1="481" x2="660" y2="321"/>
<line x1="500" y1="503" x2="660" y2="343"/>
</g>
<path d="M552.2,196.5 L552.2,290.8 L630,298.7 L630,385.8 L593.6,385.8 L593.6,328 Q593.6,322.4 587.6,321.9 L533,317.1 Q526,316.4 526,310 L526,271.2 L534.3,264.8 L534.3,205.4 L547,198.6 L551.2,196.5 Z" fill="none" stroke="#161616" stroke-width="2.3" stroke-linejoin="round"/>
<line x1="547" y1="198.6" x2="522.3" y2="211" stroke="#1e1e1e" stroke-width="1.2" />
<text x="494.2" y="227.6" font-size="18" text-anchor="start" fill="#222" >60</text>
<text x="514.6" y="225.2" font-size="15" fill="#222">°</text>
<path d="M524.6,216 C526,223 528.5,229.5 535.5,232 L541.5,229" fill="none" stroke="#1e1e1e" stroke-width="1.3"/>
<polygon points="523.2,211.8 529.0,222.1 523.8,223.6" fill="#1e1e1e"/>
<polygon points="550.5,222.6 542.6,231.4 539.5,227.0" fill="#1e1e1e"/>
<text x="495.6" y="248.8" font-size="18" text-anchor="start" fill="#222" >20</text>
<line x1="493.7" y1="251.2" x2="528" y2="251.2" stroke="#1e1e1e" stroke-width="1.2" />
<polygon points="532.8,251.2 518.3,254.3 518.3,248.1" fill="#1e1e1e"/>
<polygon points="553.6,251.2 568.1,248.1 568.1,254.3" fill="#1e1e1e"/>
<line x1="558" y1="251.2" x2="592" y2="251.2" stroke="#1e1e1e" stroke-width="1.2" />
<text x="491.8" y="281.5" font-size="18" text-anchor="start" fill="#222" >28</text>
<line x1="487.5" y1="285.3" x2="520" y2="285.3" stroke="#1e1e1e" stroke-width="1.2" />
<polygon points="524.8,285.3 510.3,288.4 510.3,282.2" fill="#1e1e1e"/>
<polygon points="553.6,285.3 568.1,282.2 568.1,288.4" fill="#1e1e1e"/>
<line x1="558" y1="285.3" x2="592" y2="285.3" stroke="#1e1e1e" stroke-width="1.2" />
<line x1="552.7" y1="199.5" x2="631.8" y2="223.6" stroke="#1e1e1e" stroke-width="1.1" />
<text x="638" y="236" font-size="19.6" text-anchor="start" fill="#222" >3</text>
<line x1="542.2" y1="255.2" x2="621.9" y2="270.9" stroke="#1e1e1e" stroke-width="1.1" />
<text x="630" y="282.5" font-size="19.6" text-anchor="start" fill="#222" >2</text>
<line x1="546.6" y1="354.2" x2="613.8" y2="370.9" stroke="#1e1e1e" stroke-width="1.1" />
<text x="531" y="361.5" font-size="19.6" text-anchor="start" fill="#222" >1</text>
<line x1="578.2" y1="341" x2="638.7" y2="341" stroke="#1e1e1e" stroke-width="1.1" />
<line x1="630" y1="298.7" x2="676" y2="298.7" stroke="#1e1e1e" stroke-width="1.2" />
<line x1="630" y1="385.8" x2="676" y2="385.8" stroke="#1e1e1e" stroke-width="1.2" />
<line x1="671.8" y1="305" x2="671.8" y2="380" stroke="#1e1e1e" stroke-width="1.2" />
<polygon points="671.8,299.3 674.9,313.8 668.7,313.8" fill="#1e1e1e"/>
<polygon points="671.8,385.2 668.7,370.7 674.9,370.7" fill="#1e1e1e"/>
<text x="0" y="0" font-size="18" fill="#222" text-anchor="middle" transform="translate(664.5,339.5) rotate(-90)"><tspan font-style="italic">ϕ</tspan>110</text>
<line x1="592.1" y1="385.8" x2="592.1" y2="417" stroke="#1e1e1e" stroke-width="1.2" />
<line x1="631" y1="385.8" x2="631" y2="417" stroke="#1e1e1e" stroke-width="1.2" />
<line x1="597" y1="413.2" x2="626" y2="413.2" stroke="#1e1e1e" stroke-width="1.2" />
<polygon points="592.4,413.2 606.9,410.1 606.9,416.3" fill="#1e1e1e"/>
<polygon points="630.7,413.2 616.2,416.3 616.2,410.1" fill="#1e1e1e"/>
<text x="612" y="407.3" font-size="18" text-anchor="middle" fill="#222" >35</text>
</g>
</g>
</svg>
<div class="cap" style="top:427.1px">图2 浇注系统及排溢系统</div>
<div class="cap" style="top:457.3px">1.直浇道 2.横浇道 3.内浇口</div>
<div class="cap" style="top:487.4px">4.溢流槽 5.排气道 6.铸件</div>
</div>
</body></html>
